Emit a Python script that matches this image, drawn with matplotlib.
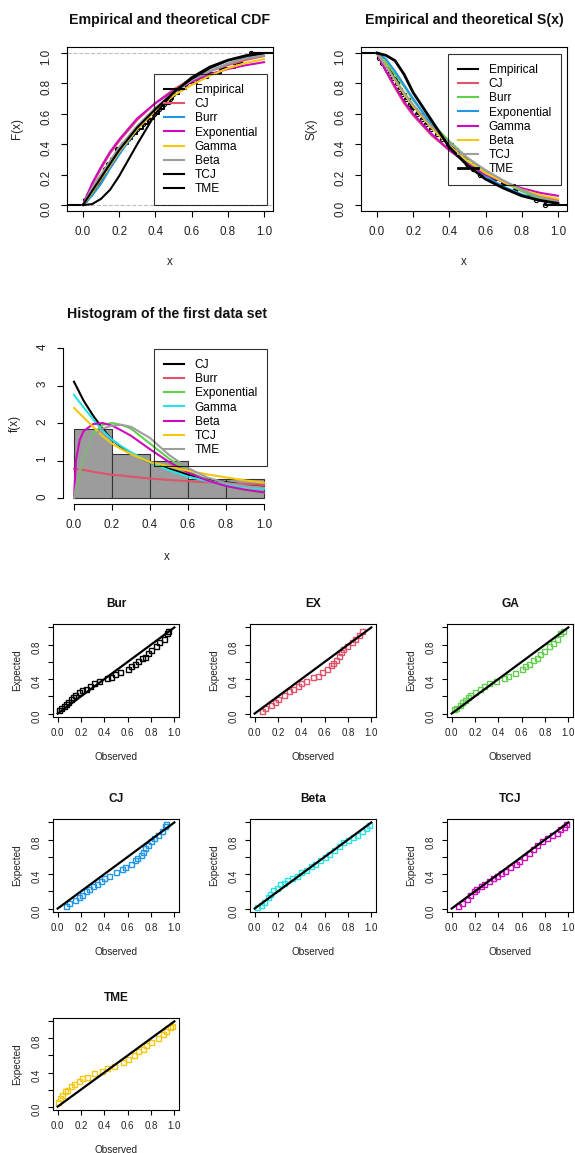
import matplotlib.pyplot as plt
import numpy as np

plt.rcParams['font.family'] = ['Liberation Sans', 'DejaVu Sans']

# R 4.x palette
BLACK, RED, GREEN, BLUE = 'black', '#DF536B', '#61D04F', '#2297E6'
CYAN, MAGENTA, GOLD, GRAY = '#28E2E5', '#CD0BBC', '#F5C710', '#9E9E9E'

# first data set (n = 30)
data = [0.01, 0.03, 0.05, 0.07, 0.09, 0.11, 0.12, 0.14, 0.16, 0.18, 0.19,
        0.22, 0.25, 0.27, 0.30, 0.33, 0.36, 0.39,
        0.42, 0.45, 0.48, 0.50, 0.53, 0.57,
        0.63, 0.69, 0.76,
        0.84, 0.88, 0.93]

# theoretical CDF curves
xg = [0, 0.05, 0.1, 0.15, 0.2, 0.3, 0.4, 0.5, 0.6, 0.7, 0.8, 0.9, 1.0]
cdf_cj = [0, 0.13, 0.24, 0.34, 0.42, 0.56, 0.67, 0.76, 0.83, 0.88, 0.92, 0.955, 0.98]
cdf_burr = [0, 0.06, 0.14, 0.24, 0.33, 0.50, 0.63, 0.74, 0.82, 0.88, 0.93, 0.97, 0.99]
cdf_exp = [0, 0.14, 0.25, 0.35, 0.43, 0.57, 0.67, 0.75, 0.81, 0.86, 0.895, 0.92, 0.94]
cdf_gamma = [0, 0.08, 0.17, 0.26, 0.35, 0.50, 0.62, 0.72, 0.79, 0.85, 0.90, 0.935, 0.96]
cdf_beta = [0, 0.11, 0.20, 0.29, 0.38, 0.52, 0.64, 0.74, 0.82, 0.88, 0.93, 0.965, 0.985]
cdf_tcj = [0, 0.09, 0.18, 0.27, 0.36, 0.51, 0.63, 0.74, 0.83, 0.90, 0.95, 0.98, 1.0]
cdf_tme = [0, 0.005, 0.04, 0.10, 0.19, 0.40, 0.60, 0.74, 0.84, 0.91, 0.955, 0.985, 1.0]

# survival curves
s_cj = [1, 0.88, 0.77, 0.67, 0.59, 0.46, 0.36, 0.28, 0.21, 0.15, 0.10, 0.06, 0.03]
s_burr = [1, 0.94, 0.86, 0.78, 0.69, 0.54, 0.42, 0.31, 0.22, 0.15, 0.09, 0.04, 0.01]
s_exp = [1, 0.96, 0.88, 0.79, 0.70, 0.53, 0.39, 0.28, 0.19, 0.12, 0.07, 0.03, 0.01]
s_gamma = [1, 0.88, 0.78, 0.68, 0.60, 0.47, 0.36, 0.27, 0.20, 0.15, 0.11, 0.08, 0.06]
s_beta = [1, 0.92, 0.82, 0.73, 0.65, 0.51, 0.39, 0.29, 0.21, 0.15, 0.10, 0.065, 0.04]
s_tcj = [1, 0.91, 0.83, 0.74, 0.66, 0.52, 0.41, 0.31, 0.23, 0.16, 0.10, 0.05, 0.02]
s_tme = [1, 0.985, 0.95, 0.86, 0.74, 0.56, 0.38, 0.26, 0.17, 0.11, 0.06, 0.03, 0.01]

# fitted densities
hx = [0, 0.01, 0.03, 0.05, 0.1, 0.15, 0.2, 0.25, 0.3, 0.4, 0.5, 0.6, 0.7, 0.8, 0.9, 1.0]
pdf_cj = [3.1, 3.0, 2.8, 2.6, 2.2, 1.85, 1.55, 1.35, 1.2, 0.95, 0.78, 0.62, 0.5, 0.42, 0.35, 0.3]
pdf_burr = [0.78, 0.77, 0.76, 0.75, 0.7, 0.66, 0.62, 0.6, 0.57, 0.52, 0.48, 0.45, 0.42, 0.39, 0.37, 0.35]
pdf_exp = [0, 0.2, 0.7, 1.1, 1.7, 1.95, 2.0, 1.95, 1.85, 1.45, 1.05, 0.72, 0.48, 0.32, 0.21, 0.14]
pdf_gamma = [2.75, 2.68, 2.55, 2.42, 2.1, 1.8, 1.55, 1.38, 1.22, 0.95, 0.74, 0.57, 0.45, 0.36, 0.29, 0.24]
pdf_beta = [0, 1.0, 1.55, 1.78, 1.97, 2.0, 1.93, 1.8, 1.66, 1.3, 0.96, 0.68, 0.47, 0.32, 0.22, 0.15]
pdf_tcj = [2.4, 2.35, 2.25, 2.15, 1.9, 1.65, 1.45, 1.3, 1.17, 0.96, 0.84, 0.73, 0.63, 0.55, 0.47, 0.41]
pdf_tme = [0, 0.3, 0.8, 1.2, 1.65, 1.85, 1.93, 1.95, 1.9, 1.6, 1.15, 0.8, 0.55, 0.4, 0.32, 0.28]
hist_bins = [0, 0.2, 0.4, 0.6, 0.8, 1.0]

# P-P plots (observed, expected)
bur_obs = [0.01, 0.03, 0.05, 0.07, 0.09, 0.11, 0.13, 0.15, 0.18, 0.21, 0.24, 0.28, 0.31, 0.35, 0.42,
           0.46, 0.49, 0.53, 0.60, 0.63, 0.66, 0.69, 0.72, 0.75, 0.77, 0.80, 0.84, 0.87, 0.91, 0.94, 0.95]
bur_exp = [0.04, 0.06, 0.09, 0.11, 0.14, 0.17, 0.19, 0.22, 0.25, 0.27, 0.29, 0.32, 0.35, 0.38, 0.41,
           0.43, 0.46, 0.48, 0.52, 0.55, 0.58, 0.61, 0.64, 0.66, 0.70, 0.74, 0.79, 0.83, 0.87, 0.93, 0.96]
ex_obs = [0.06, 0.09, 0.14, 0.17, 0.20, 0.25, 0.29, 0.33, 0.37, 0.40, 0.44, 0.50, 0.54, 0.58, 0.62,
          0.65, 0.67, 0.70, 0.72, 0.74, 0.76, 0.79, 0.83, 0.86, 0.89, 0.92]
ex_exp = [0.035, 0.06, 0.10, 0.14, 0.17, 0.22, 0.26, 0.29, 0.32, 0.35, 0.38, 0.42, 0.44, 0.48, 0.52,
          0.56, 0.59, 0.62, 0.67, 0.71, 0.75, 0.79, 0.83, 0.87, 0.91, 0.96]
ga_obs = [0.02, 0.04, 0.07, 0.09, 0.11, 0.14, 0.16, 0.20, 0.24, 0.28, 0.32, 0.38, 0.45, 0.48, 0.54,
          0.60, 0.63, 0.66, 0.70, 0.73, 0.76, 0.79, 0.83, 0.87, 0.90, 0.93, 0.95]
ga_exp = [0.05, 0.07, 0.10, 0.13, 0.16, 0.19, 0.22, 0.25, 0.28, 0.32, 0.35, 0.38, 0.41, 0.44, 0.47,
          0.52, 0.55, 0.58, 0.62, 0.65, 0.69, 0.73, 0.78, 0.82, 0.87, 0.93, 0.96]
cj_obs = [0.07, 0.10, 0.15, 0.18, 0.21, 0.24, 0.27, 0.30, 0.34, 0.37, 0.40, 0.44, 0.50, 0.55, 0.58,
          0.63, 0.66, 0.68, 0.71, 0.73, 0.75, 0.77, 0.80, 0.83, 0.86, 0.89, 0.92, 0.93]
cj_exp = [0.03, 0.06, 0.10, 0.13, 0.16, 0.20, 0.23, 0.26, 0.29, 0.32, 0.35, 0.38, 0.42, 0.46, 0.48,
          0.52, 0.56, 0.59, 0.62, 0.66, 0.70, 0.74, 0.78, 0.82, 0.86, 0.90, 0.96, 0.98]
beta_obs = [0.02, 0.05, 0.08, 0.11, 0.13, 0.16, 0.19, 0.22, 0.25, 0.28, 0.32, 0.36, 0.40, 0.44, 0.48,
            0.52, 0.56, 0.60, 0.64, 0.68, 0.72, 0.76, 0.80, 0.84, 0.88, 0.92, 0.95, 0.98]
beta_exp = [0.02, 0.04, 0.08, 0.13, 0.17, 0.21, 0.24, 0.28, 0.30, 0.33, 0.36, 0.38, 0.42, 0.45, 0.49,
            0.52, 0.56, 0.60, 0.63, 0.68, 0.73, 0.77, 0.80, 0.83, 0.86, 0.90, 0.93, 0.97]
tcj_obs = [0.05, 0.09, 0.13, 0.16, 0.19, 0.21, 0.25, 0.28, 0.32, 0.35, 0.39, 0.42, 0.46, 0.50,
           0.55, 0.58, 0.62, 0.66, 0.70, 0.73, 0.77, 0.82, 0.86, 0.90, 0.93, 0.96, 0.98]
tcj_exp = [0.03, 0.07, 0.11, 0.16, 0.20, 0.23, 0.26, 0.29, 0.32, 0.35, 0.38, 0.41, 0.44, 0.48,
           0.52, 0.55, 0.60, 0.64, 0.69, 0.74, 0.78, 0.82, 0.85, 0.88, 0.92, 0.95, 0.98]
tme_obs = [0.005, 0.02, 0.04, 0.06, 0.08, 0.11, 0.14, 0.18, 0.21, 0.25, 0.31, 0.38, 0.42, 0.48, 0.56,
           0.60, 0.65, 0.69, 0.73, 0.76, 0.80, 0.86, 0.90, 0.93, 0.96, 0.98]
tme_exp = [0.05, 0.10, 0.14, 0.18, 0.20, 0.24, 0.26, 0.30, 0.33, 0.35, 0.39, 0.42, 0.45, 0.48, 0.52,
           0.56, 0.61, 0.65, 0.68, 0.72, 0.76, 0.81, 0.85, 0.89, 0.93, 0.95]

W, H = 575, 1153
fig = plt.figure(figsize=(W / 100, H / 100), dpi=100)


def add_box(l, t, r, b):
    # pixel box -> figure fraction
    return fig.add_axes([l / W, 1 - b / H, (r - l) / W, (b - t) / H])


def r_axes(ax, fs, tl, pad):
    for s in ax.spines.values():
        s.set_linewidth(0.8)
    ax.tick_params(labelsize=fs, length=tl, width=0.8, pad=pad, labelcolor='#222222')
    ax.tick_params(axis='y', labelrotation=90)


def r_legend(ax, anchor, fs=8.6):
    leg = ax.legend(loc='upper left', bbox_to_anchor=anchor, fontsize=fs, fancybox=False,
                    edgecolor='black', facecolor='none', framealpha=None, borderpad=0.85,
                    labelspacing=0.18, handlelength=1.7, handletextpad=0.85, borderaxespad=0)
    leg.get_frame().set_linewidth(0.8)
    return leg


def labels(ax, title, xl, yl, ty, xly, ylx, box, tfs, lfs, bold=True):
    l, t, r, b = box
    w, h = r - l, b - t
    ax.text(0.5, 1 + (t - ty) / h, title, transform=ax.transAxes, ha='center', va='center',
            fontsize=tfs, fontweight='bold' if bold else 'normal', color='#111111')
    ax.set_xlabel(xl, fontsize=lfs, va='center', color='#222222')
    ax.set_ylabel(yl, fontsize=lfs, va='center', color='#222222')
    ax.xaxis.set_label_coords(0.5, -(xly - b) / h)
    ax.yaxis.set_label_coords(-(l - ylx) / w, 0.5)


xs = np.sort(data)
ys = np.arange(1, len(xs) + 1) / len(xs)
ticks = [0, 0.2, 0.4, 0.6, 0.8, 1.0]
tlabs = ['0.0', '0.2', '0.4', '0.6', '0.8', '1.0']

# ---- empirical and theoretical CDF
box = (67, 47, 273, 211)
ax = add_box(*box)
ax.axhline(0, color='#BEBEBE', ls='--', lw=0.8)
ax.axhline(1, color='#BEBEBE', ls='--', lw=0.8)
ax.step(np.r_[-0.3, xs, 1.3], np.r_[0, ys, 1], where='post', color=BLACK, lw=1.5, label='Empirical')
ax.plot(xs, ys, 'o', mfc='none', mec=BLACK, ms=3, mew=0.8)
for y, c, n in [(cdf_cj, RED, 'CJ'), (cdf_burr, BLUE, 'Burr'), (cdf_exp, MAGENTA, 'Exponential'),
                (cdf_gamma, GOLD, 'Gamma'), (cdf_beta, GRAY, 'Beta'), (cdf_tcj, BLACK, 'TCJ'),
                (cdf_tme, BLACK, 'TME')]:
    ax.plot(xg, y, color=c, lw=1.5, label=n)
ax.set_xlim(-0.088, 1.05)
ax.set_ylim(-0.04, 1.04)
ax.set_xticks(ticks, tlabs)
ax.set_yticks(ticks, tlabs)
r_axes(ax, 8.4, 4.5, 6)
r_legend(ax, ((154 - 67) / 206, (211 - 74) / 164))
labels(ax, 'Empirical and theoretical CDF', 'x', 'F(x)', 20, 262, 17, box, 10.2, 8.4)

# ---- empirical and theoretical S(x)
box = (361, 47, 567, 211)
ax = add_box(*box)
ax.step(np.r_[-0.3, xs, 1.3], 1 - np.r_[0, ys, 1], where='post', color=BLACK, lw=1.5, label='Empirical')
ax.plot(xs, 1 - ys, 'o', mfc='none', mec=BLACK, ms=3, mew=0.8)
for y, c, n in [(s_cj, RED, 'CJ'), (s_burr, GREEN, 'Burr'), (s_exp, BLUE, 'Exponential'),
                (s_gamma, MAGENTA, 'Gamma'), (s_beta, GOLD, 'Beta'), (s_tcj, GRAY, 'TCJ'),
                (s_tme, BLACK, 'TME')]:
    ax.plot(xg, y, color=c, lw=1.5 if c != BLACK else 2, label=n)
ax.set_xlim(-0.088, 1.05)
ax.set_ylim(-0.04, 1.04)
ax.set_xticks(ticks, tlabs)
ax.set_yticks(ticks, tlabs)
r_axes(ax, 8.4, 4.5, 6)
r_legend(ax, ((448 - 361) / 206, (211 - 54) / 164))
labels(ax, 'Empirical and theoretical S(x)', 'x', 'S(x)', 20, 262, 312, box, 10.2, 8.4)

# ---- histogram with fitted densities
box = (63, 342, 271, 504)
ax = add_box(*box)
ax.hist(data, bins=hist_bins, density=True, color='#9C9C9C', edgecolor='#333333', lw=0.8)
for y, c, n in [(pdf_cj, BLACK, 'CJ'), (pdf_burr, RED, 'Burr'), (pdf_exp, GREEN, 'Exponential'),
                (pdf_gamma, CYAN, 'Gamma'), (pdf_beta, MAGENTA, 'Beta'), (pdf_tcj, GOLD, 'TCJ'),
                (pdf_tme, GRAY, 'TME')]:
    ax.plot(hx, y, color=c, lw=1.5, label=n)
ax.set_xlim(-0.058, 1.037)
ax.set_ylim(-0.16, 4.16)
ax.set_xticks(ticks, tlabs)
ax.set_yticks([0, 1, 2, 3, 4])
ax.spines['top'].set_visible(False)
ax.spines['right'].set_visible(False)
ax.spines['left'].set_bounds(0, 4)
ax.spines['bottom'].set_bounds(0, 1)
r_axes(ax, 8.4, 4.5, 6)
r_legend(ax, ((154 - 63) / 208, (504 - 349) / 162))
labels(ax, 'Histogram of the first data set', 'x', 'f(x)', 314, 557, 15, box, 10.2, 8.4)

# ---- P-P plots
pp = [('Bur', bur_obs, bur_exp, BLACK), ('EX', ex_obs, ex_exp, RED), ('GA', ga_obs, ga_exp, GREEN),
      ('CJ', cj_obs, cj_exp, BLUE), ('Beta', beta_obs, beta_exp, CYAN), ('TCJ', tcj_obs, tcj_exp, MAGENTA),
      ('TME', tme_obs, tme_exp, GOLD)]
cols = [53, 250, 447]
rows = [(624, 717), (819, 912), (1018, 1110)]
for i, (name, ob, ex, c) in enumerate(pp):
    l = cols[i % 3]
    t, b = rows[i // 3]
    box = (l, t, l + 126, b)
    ax = add_box(*box)
    ax.plot(ob, ex, 's', mfc='none', mec=c, ms=3.6, mew=1)
    ax.plot([0, 1], [0, 1], color=BLACK, lw=1.6)
    ax.set_xlim(-0.04, 1.04)
    ax.set_ylim(-0.04, 1.04)
    ax.set_xticks(ticks, tlabs)
    ax.set_yticks(ticks, ['0.0', '', '0.4', '', '0.8', ''])
    r_axes(ax, 7, 3.5, 4.5)
    labels(ax, name, 'Observed', 'Expected', t - 20, b + 40, l - 36, box, 8.6, 7.2, bold=True)

fig.savefig('out.png', dpi=100, facecolor='white')
